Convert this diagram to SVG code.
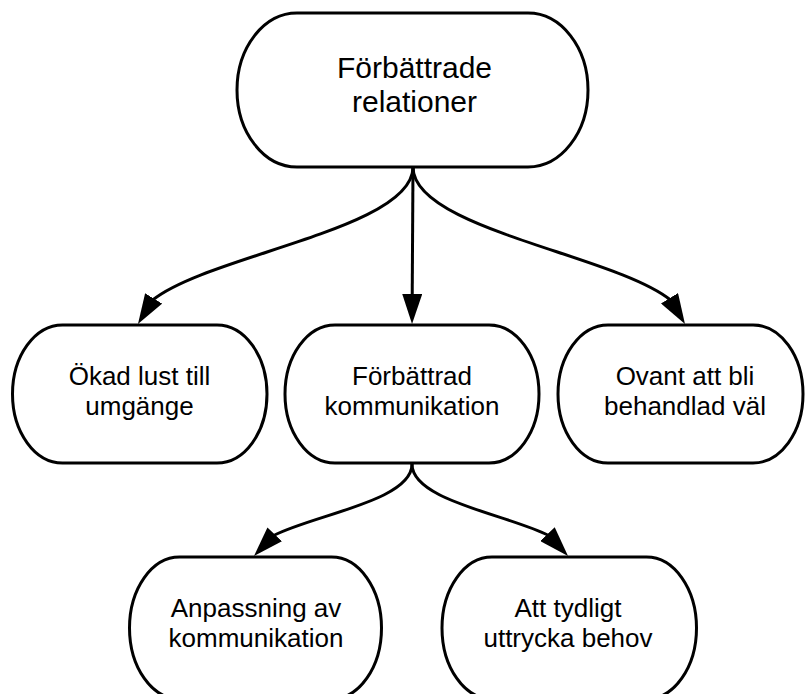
<svg xmlns="http://www.w3.org/2000/svg" width="805" height="694" viewBox="0 0 805 694">
  <style>
    .node { fill: #ffffff; stroke: #000000; stroke-width: 3; }
    .label { font-family: "Liberation Sans", Arial, sans-serif; font-size: 26px; fill: #000000; text-anchor: middle; }
    .label.big { font-size: 30px; }
    .edge { fill: none; stroke: #000000; stroke-width: 3; marker-end: url(#arrow); }
  </style>
  <defs>
    <!-- filled arrowhead; tip sits 10 units past the path end -->
    <marker id="arrow" viewBox="0 0 30 20" markerWidth="30" markerHeight="20" refX="20" refY="10" orient="auto" markerUnits="userSpaceOnUse">
      <path d="M0,0 L30,10 L0,20 Z" fill="#000000"/>
    </marker>
  </defs>
  <rect width="805" height="694" fill="#ffffff"/>

  <!-- connectors -->
  <g id="connectors">
    <path class="edge" d="M413,167 C413,228.9 209.6,254.6 152.7,300 L143.2,315.5"/>
    <path class="edge" d="M413,167 L412.1,314"/>
    <path class="edge" d="M413,167 C413,228.9 614.2,254.6 670.5,300 L679.8,315.4"/>
    <path class="edge" d="M412,464 C412,500.66 315.87,514.2 273.58,535.47 L260.9,548.8"/>
    <path class="edge" d="M412,464 C412,500.66 506.91,514.2 548.67,535.47 L561.15,548.72"/>
  </g>

  <!-- root -->
  <g id="n-relationer">
    <rect class="node" x="237" y="13" width="351" height="154" rx="60" ry="77"/>
    <text class="label big" x="414.5" y="77.5">Förbättrade</text>
    <text class="label big" x="414.5" y="112">relationer</text>
  </g>

  <!-- second level -->
  <g id="n-lust">
    <rect class="node" x="12.5" y="325" width="254.5" height="138" rx="50" ry="69"/>
    <text class="label" x="139.5" y="384.5">Ökad lust till</text>
    <text class="label" x="139.5" y="414.5">umgänge</text>
  </g>
  <g id="n-kommunikation">
    <rect class="node" x="285" y="325" width="254" height="138" rx="50" ry="69"/>
    <text class="label" x="412" y="384.5">Förbättrad</text>
    <text class="label" x="412" y="414.5">kommunikation</text>
  </g>
  <g id="n-behandlad">
    <rect class="node" x="558" y="325" width="245" height="138" rx="50" ry="69"/>
    <text class="label" x="685" y="384.5">Ovant att bli</text>
    <text class="label" x="685" y="414.5">behandlad väl</text>
  </g>

  <!-- third level -->
  <g id="n-anpassning">
    <rect class="node" x="129.5" y="557" width="252" height="142" rx="50" ry="71"/>
    <text class="label" x="256" y="616.5">Anpassning av</text>
    <text class="label" x="256" y="647">kommunikation</text>
  </g>
  <g id="n-behov">
    <rect class="node" x="442" y="557" width="254.5" height="142" rx="50" ry="71"/>
    <text class="label" x="568" y="616.5">Att tydligt</text>
    <text class="label" x="568" y="647">uttrycka behov</text>
  </g>
</svg>
